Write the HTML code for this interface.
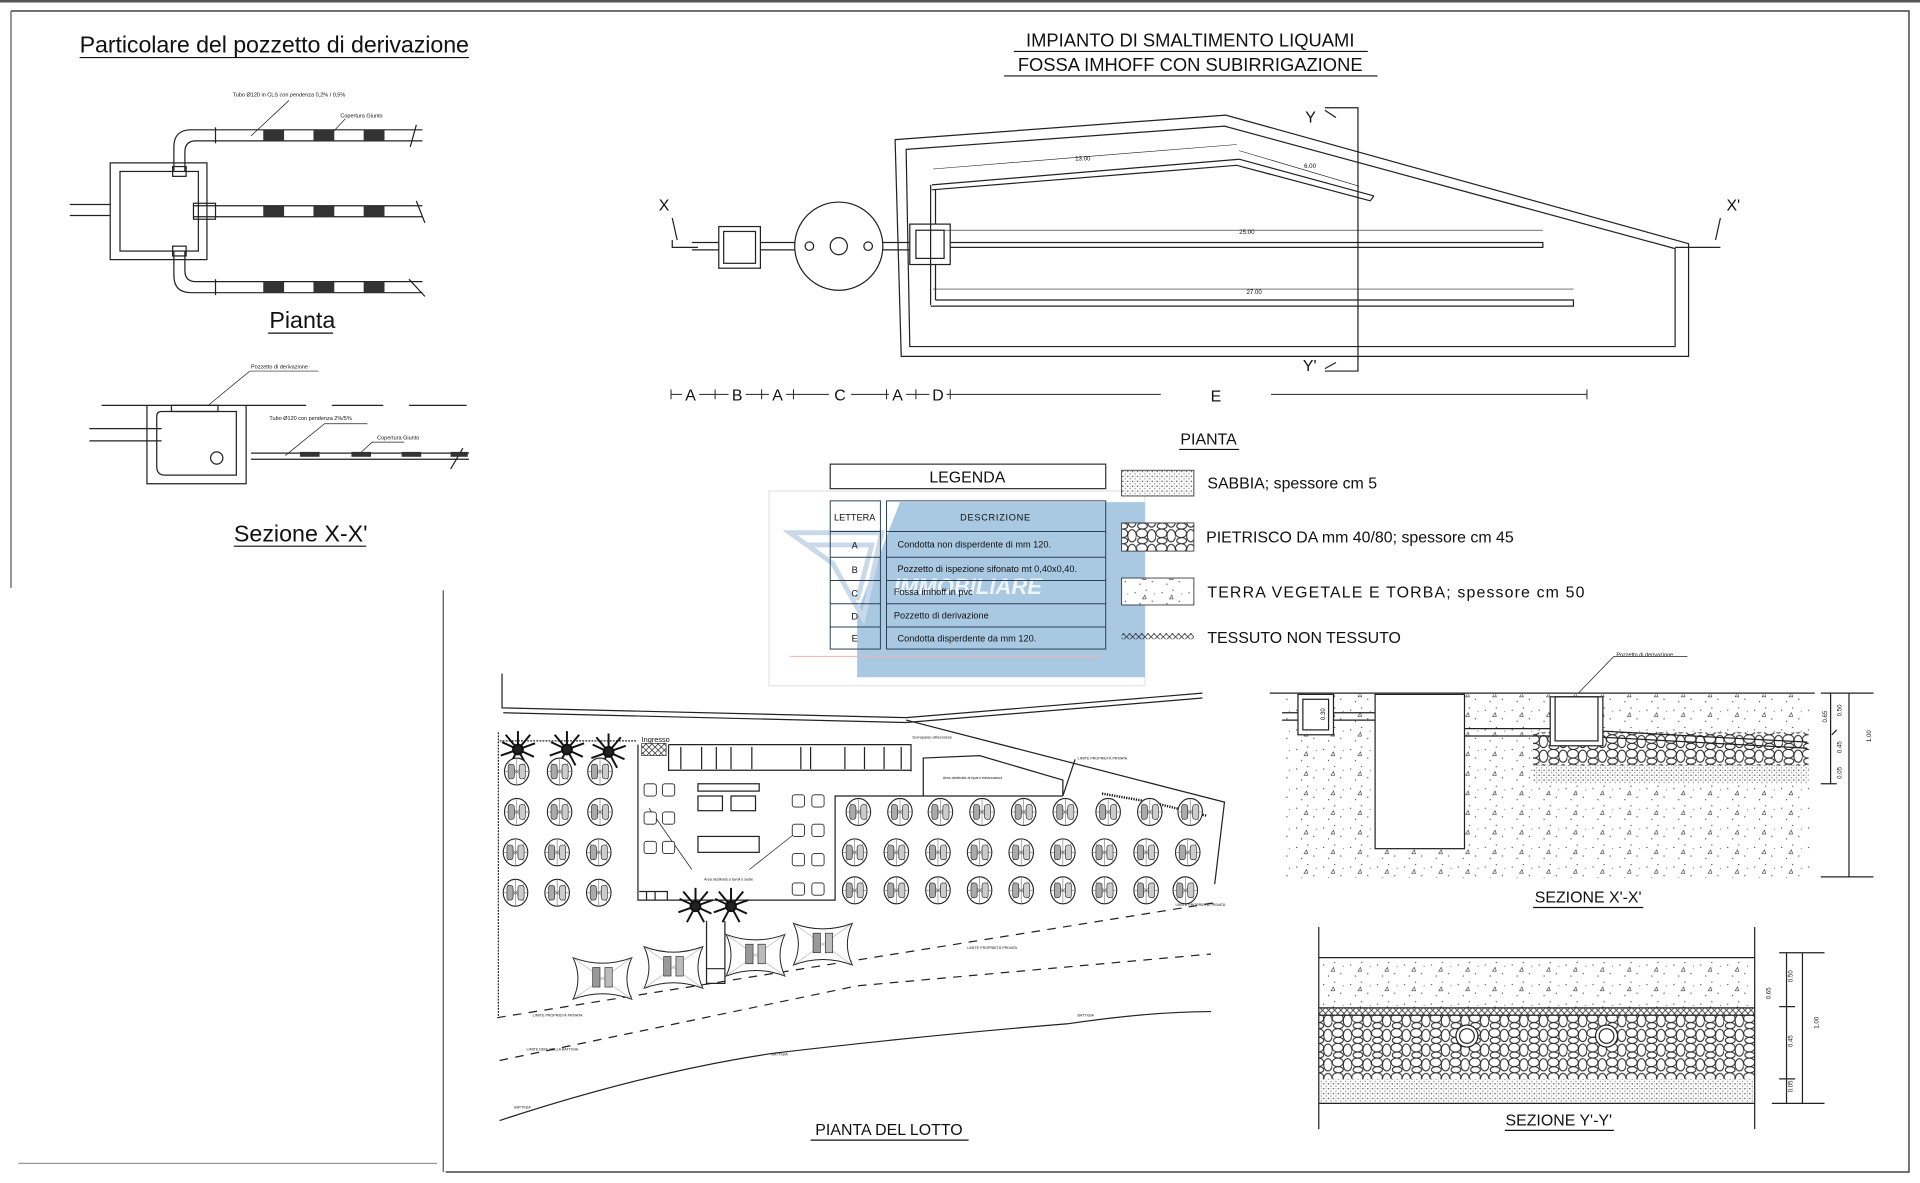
<!DOCTYPE html>
<html><head><meta charset="utf-8">
<style>
html,body{margin:0;padding:0;background:#fff;}
svg{display:block;}
text{font-family:"Liberation Sans",sans-serif;fill:#111;}
</style></head>
<body>
<svg width="1920" height="1183" viewBox="0 0 1568 966" preserveAspectRatio="none" xmlns="http://www.w3.org/2000/svg">
<defs>
<pattern id="sand" width="4" height="4" patternUnits="userSpaceOnUse">
<rect width="4" height="4" fill="#fff"/><circle cx="1" cy="1" r="0.6" fill="#555"/><circle cx="3" cy="3" r="0.5" fill="#777"/><circle cx="3" cy="1" r="0.4" fill="#999"/>
</pattern>
<pattern id="stone" width="16" height="12" patternUnits="userSpaceOnUse">
<rect width="16" height="12" fill="#fff"/>
<ellipse cx="4.5" cy="3.5" rx="4.5" ry="3.5" fill="none" stroke="#222" stroke-width="0.8"/>
<ellipse cx="12.5" cy="5.5" rx="3.5" ry="5" fill="none" stroke="#222" stroke-width="0.8"/>
<ellipse cx="5" cy="9.5" rx="4" ry="2.5" fill="none" stroke="#222" stroke-width="0.8"/>
</pattern>
<pattern id="earth" width="22" height="16" patternUnits="userSpaceOnUse">
<rect width="22" height="16" fill="#fff"/>
<circle cx="3" cy="4" r="0.5" fill="#333"/><circle cx="12" cy="2" r="0.5" fill="#333"/><circle cx="17" cy="11" r="0.5" fill="#333"/><circle cx="7" cy="13" r="0.5" fill="#333"/><circle cx="19" cy="5" r="0.4" fill="#333"/>
<path d="M9 9 l2 -3 l1 3 z" fill="none" stroke="#333" stroke-width="0.5"/>
</pattern>
<pattern id="xx" width="5" height="5" patternUnits="userSpaceOnUse">
<path d="M0 0 L5 5 M5 0 L0 5" stroke="#222" stroke-width="0.6"/>
</pattern>
<g id="umb">
<ellipse cx="0" cy="0" rx="10" ry="11" fill="#fff" stroke="#222" stroke-width="0.9"/>
<path d="M-7 -7 L7 7 M7 -7 L-7 7 M0 -11 V11 M-10 0 H10" stroke="#777" stroke-width="0.5"/>
<rect x="-7" y="-6" width="5" height="12" rx="2" fill="#aaa" stroke="#222" stroke-width="0.5"/>
<rect x="2" y="-6" width="5" height="12" rx="2" fill="#ccc" stroke="#222" stroke-width="0.5"/>
</g>
<g id="palm" stroke="#111" stroke-width="1.6" fill="#222">
<path d="M0 0 L-13 -6 M0 0 L-10 -12 M0 0 L0 -15 M0 0 L10 -12 M0 0 L14 -5 M0 0 L13 6 M0 0 L7 13 M0 0 L-7 13 M0 0 L-14 5"/>
<circle r="4"/>
</g>
<g id="gaz">
<path d="M-24 -17 Q0 -8 24 -17 Q16 0 24 17 Q0 8 -24 17 Q-16 0 -24 -17 Z" fill="#fff" stroke="#222" stroke-width="0.8"/>
<path d="M-24 -17 L24 17 M24 -17 L-24 17" stroke="#888" stroke-width="0.4"/>
<rect x="-8" y="-9" width="6" height="16" fill="#999" stroke="#222" stroke-width="0.5"/>
<rect x="2" y="-9" width="6" height="16" fill="#bbb" stroke="#222" stroke-width="0.5"/>
</g>
<g id="tbl"><rect x="-5" y="-5" width="10" height="10" rx="2" fill="#fff" stroke="#222" stroke-width="0.7"/></g>
</defs>

<rect x="0" y="0" width="1568" height="966" fill="#fff"/>
<path d="M9 9 H1559 V957 H364" fill="none" stroke="#444" stroke-width="1.2"/>
<path d="M0 1 H1568" stroke="#555" stroke-width="2"/>
<path d="M9 9 V480 M362 482 V957" stroke="#555" stroke-width="1"/>
<path d="M15 950 H357" stroke="#999" stroke-width="1"/>

<!-- ===== LEFT DETAIL ===== -->
<text x="65" y="43" font-size="19" textLength="318">Particolare del pozzetto di derivazione</text>
<path d="M65 47 H383" stroke="#111"/>
<g fill="none" stroke="#222" stroke-width="1">
<rect x="90" y="133" width="79" height="79"/>
<rect x="98" y="140" width="64" height="65"/>
<path d="M57 167 H90 M57 176 H90"/>
<path d="M142 140 V120 Q142 106 156 106 H345 M151 140 V124 Q151 115 160 115 H345"/>
<rect x="141" y="136" width="11" height="8"/>
<path d="M176 104 V117"/>
<path d="M158 168 H345 M158 177 H345"/>
<rect x="158" y="166" width="18" height="13"/>
<path d="M142 205 V225 Q142 239 156 239 H345 M151 205 V221 Q151 230 160 230 H345"/>
<rect x="141" y="201" width="11" height="8"/>
<path d="M176 228 V241"/>
<path d="M340 102 L335 120 M340 164 L347 182 M334 228 L347 242"/>
<path d="M205 111 L236 82 M268 112 L282 97" stroke-width="0.6"/>
</g>
<g fill="#333">
<rect x="215" y="106" width="17" height="9"/><rect x="256" y="106" width="17" height="9"/><rect x="297" y="106" width="17" height="9"/>
<rect x="215" y="168" width="17" height="9"/><rect x="256" y="168" width="17" height="9"/><rect x="297" y="168" width="17" height="9"/>
<rect x="215" y="230" width="17" height="9"/><rect x="256" y="230" width="17" height="9"/><rect x="297" y="230" width="17" height="9"/>
</g>
<text x="190" y="79" font-size="4.5" font-family="Liberation Serif">Tubo Ø120 in CLS con pendenza 0,2% / 0,5%</text>
<text x="278" y="96" font-size="4.5" font-family="Liberation Serif">Copertura Giunto</text>
<text x="220" y="268" font-size="19">Pianta</text>
<path d="M219 272 H272" stroke="#111"/>

<g fill="none" stroke="#222" stroke-width="1">
<path d="M83 331 H250 M271 331 H313 M334 331 H381"/>
<path d="M120 331 V395 H201 V331"/>
<path d="M128 340 Q128 336 132 336 H193 V388 H135 Q128 388 128 381 Z"/>
<rect x="140" y="331" width="38" height="5"/>
<path d="M73 350 H132 M73 360 H132"/>
<circle cx="177" cy="374" r="5"/>
<path d="M205 370 H383 M205 375 H383"/>
<path d="M170 331 L204 303 H260" stroke-width="0.6"/>
<path d="M233 372 L265 346 H300" stroke-width="0.6"/>
<path d="M293 371 L304 361 H330" stroke-width="0.6"/>
<path d="M378 366 L368 383"/>
</g>
<g fill="#333"><rect x="245" y="369" width="16" height="4"/><rect x="287" y="369" width="16" height="4"/><rect x="328" y="369" width="16" height="4"/><rect x="368" y="369" width="14" height="4"/></g>
<text x="205" y="301" font-size="4.5" font-family="Liberation Serif">Pozzetto di derivazione</text>
<text x="220" y="343" font-size="4.5" font-family="Liberation Serif">Tubo Ø120 con pendenza 2%/5%</text>
<text x="308" y="359" font-size="4.5" font-family="Liberation Serif">Copertura Giunto</text>
<text x="191" y="442" font-size="19">Sezione X-X'</text>
<path d="M191 446 H299" stroke="#111"/>

<!-- ===== TOP PLAN ===== -->
<text x="972" y="38" font-size="15" text-anchor="middle">IMPIANTO DI SMALTIMENTO LIQUAMI</text>
<path d="M828 42 H1117" stroke="#111"/>
<text x="972" y="58" font-size="15" text-anchor="middle">FOSSA IMHOFF CON SUBIRRIGAZIONE</text>
<path d="M820 62 H1125" stroke="#111"/>

<g fill="none" stroke="#222" stroke-width="1">
<path d="M731 114 L1001 94 L1379 199 V291 H736 Z"/>
<path d="M740 122 L1000 103 L1368 203 V283 H743 Z"/>
<path d="M761 151 L1012 130 L1122 160 M761 155 L1010 135 L1119 164 L1122 160"/>
<path d="M760 151 V249 M764 155 V183 M764 216 V245"/>
<path d="M776 198 H1260 V202 H776"/>
<path d="M764 245 H1285 V250 H760"/>
<rect x="743" y="183" width="33" height="33"/>
<rect x="748" y="188" width="23" height="23"/>
<ellipse cx="685" cy="201" rx="36" ry="36"/>
<circle cx="685" cy="201" r="7"/>
<circle cx="661" cy="201" r="3.5"/>
<circle cx="709" cy="201" r="3.5"/>
<rect x="587" y="185" width="34" height="34"/>
<rect x="591" y="189" width="26" height="26"/>
<path d="M565 198 H587 M565 204 H587 M621 198 H649 M621 204 H649 M721 198 H743 M721 204 H743"/>
<path d="M549 178 L553 196 M549 196 V202 H570"/>
<path d="M1405 178 L1401 196 M1368 202 H1405"/>
<path d="M1082 88 H1109 V303 H1082 M1082 90 L1091 96 M1082 301 L1091 296" />
<path d="M762 138 L1010 118 M1012 123 L1110 152 M761 188 H1260 M762 236 H1285" stroke-width="0.5"/>
</g>
<text x="538" y="172" font-size="13">X</text>
<text x="1410" y="172" font-size="13">X'</text>
<text x="1066" y="100" font-size="13">Y</text>
<text x="1064" y="303" font-size="13">Y'</text>
<g font-size="5" fill="#333">
<text x="878" y="131">13.00</text><text x="1065" y="137">6.00</text>
<text x="1012" y="191">25.00</text><text x="1018" y="240">27.00</text>
</g>
<path d="M548 322 H948 M1038 322 H1296 M548 318 V326 M584 318 V326 M622 318 V326 M648 318 V326 M724 318 V326 M748 318 V326 M776 318 V326 M1296 318 V326" stroke="#222" stroke-width="0.8" fill="none"/>
<g font-size="13" text-anchor="middle">
<rect x="557" y="314" width="14" height="14" fill="#fff"/><text x="564" y="327">A</text>
<rect x="595" y="314" width="14" height="14" fill="#fff"/><text x="602" y="327">B</text>
<rect x="628" y="314" width="14" height="14" fill="#fff"/><text x="635" y="327">A</text>
<rect x="677" y="314" width="18" height="14" fill="#fff"/><text x="686" y="327">C</text>
<rect x="726" y="314" width="14" height="14" fill="#fff"/><text x="733" y="327">A</text>
<rect x="759" y="314" width="14" height="14" fill="#fff"/><text x="766" y="327">D</text>
<text x="993" y="328">E</text>
</g>
<text x="987" y="363" font-size="13" text-anchor="middle">PIANTA</text>
<path d="M963 367 H1012" stroke="#111"/>

<!-- ===== LEGEND ===== -->
<rect x="628" y="401" width="307" height="159" fill="none" stroke="#e4e4e4"/>
<polygon points="735,410 935,410 935,553 700,553 700,500" fill="#a9c8e2"/>
<path d="M645 435 L720 435 L705 505 L680 460 Z M660 445 L712 445 L700 490" fill="none" stroke="#c9d9ea" stroke-width="4"/>
<text x="730" y="485" font-size="18" font-style="italic" font-weight="bold" style="fill:#eef4fa">IMMOBILIARE</text>
<path d="M645 536 H900" stroke="#f3b0b0" stroke-width="0.8"/>
<rect x="678" y="379" width="225" height="20" fill="#fff" stroke="#333"/>
<text x="790" y="394" font-size="13" text-anchor="middle">LEGENDA</text>
<g fill="none" stroke="#2a3f55" stroke-width="0.8">
<rect x="678" y="409" width="41" height="121"/>
<rect x="724" y="409" width="179" height="121"/>
<path d="M678 434 H719 M678 455 H719 M678 474 H719 M678 493 H719 M678 512 H719"/>
<path d="M724 434 H903 M724 455 H903 M724 474 H903 M724 493 H903 M724 512 H903"/>
</g>
<g font-size="7.5" fill="#333">
<text x="698" y="425" text-anchor="middle">LETTERA</text>
<text x="813" y="425" text-anchor="middle" letter-spacing="0.6">DESCRIZIONE</text>
<text x="698" y="448" text-anchor="middle">A</text><text x="733" y="447">Condotta non disperdente di mm 120.</text>
<text x="698" y="468" text-anchor="middle">B</text><text x="733" y="467">Pozzetto di ispezione sifonato mt 0,40x0,40.</text>
<text x="698" y="487" text-anchor="middle">C</text><text x="730" y="486">Fossa imhoff in pvc</text>
<text x="698" y="506" text-anchor="middle">D</text><text x="730" y="505">Pozzetto di derivazione</text>
<text x="698" y="524" text-anchor="middle">E</text><text x="733" y="524">Condotta disperdente da mm 120.</text>
</g>
<rect x="916" y="384" width="59" height="21" fill="url(#sand)" stroke="#333" stroke-width="0.7"/>
<rect x="916" y="427" width="59" height="23" fill="url(#stone)" stroke="#333" stroke-width="0.7"/>
<rect x="916" y="472" width="59" height="22" fill="url(#earth)" stroke="#333" stroke-width="0.7"/>
<rect x="916" y="517" width="59" height="5" fill="url(#xx)"/>
<g font-size="13">
<text x="986" y="399">SABBIA; spessore cm 5</text>
<text x="985" y="443">PIETRISCO DA mm 40/80; spessore cm 45</text>
<text x="986" y="488" textLength="308">TERRA VEGETALE E TORBA; spessore cm 50</text>
<text x="986" y="525">TESSUTO NON TESSUTO</text>
</g>

<!-- ===== SEZIONE X'-X' ===== -->
<rect x="1047" y="567" width="431" height="150" fill="url(#earth)"/>
<rect x="1252" y="598" width="225" height="27" fill="url(#stone)"/>
<rect x="1252" y="625" width="225" height="15" fill="url(#sand)"/>
<g fill="none" stroke="#222" stroke-width="1">
<path d="M1037 566 H1482"/>
<rect x="1060" y="567" width="29" height="33" fill="#fff"/>
<rect x="1064" y="571" width="21" height="25"/>
<rect x="1123" y="567" width="73" height="126" fill="#fff"/>
<rect x="1266" y="569" width="43" height="40" fill="#fff"/>
<rect x="1270" y="569" width="35" height="36"/>
<path d="M1047 582 H1060 M1047 588 H1060 M1089 582 H1123 M1089 588 H1123 M1196 595 H1266 M1196 601 H1266 M1309 597 L1476 606 M1309 602 L1476 611"/>
<path d="M1289 566 L1318 536 H1378" stroke-width="0.6"/>
<path d="M1487 566 H1530 M1510 566 V716 M1487 716 H1530 M1495 566 V640 M1487 640 H1500 M1496 600 L1500 596"/>
</g>
<text x="1320" y="536" font-size="4.5" font-family="Liberation Serif">Pozzetto di derivazione</text>
<g font-size="5" fill="#333">
<text transform="translate(1082,588) rotate(-90)">0.30</text>
<text transform="translate(1492,590) rotate(-90)">0.65</text>
<text transform="translate(1504,585) rotate(-90)">0.50</text>
<text transform="translate(1504,615) rotate(-90)">0.45</text>
<text transform="translate(1504,636) rotate(-90)">0.05</text>
<text transform="translate(1528,606) rotate(-90)">1.00</text>
</g>
<text x="1297" y="737" font-size="13" text-anchor="middle">SEZIONE X'-X'</text>
<path d="M1252 741 H1342" stroke="#111"/>

<!-- ===== SEZIONE Y'-Y' ===== -->
<rect x="1077" y="782" width="356" height="41" fill="url(#earth)"/>
<rect x="1077" y="823" width="356" height="6" fill="url(#xx)"/>
<rect x="1077" y="829" width="356" height="52" fill="url(#stone)"/>
<rect x="1077" y="881" width="356" height="20" fill="url(#sand)"/>
<g fill="none" stroke="#222" stroke-width="1">
<path d="M1077 757 V922 M1433 757 V922 M1077 782 H1433 M1077 823 H1433 M1077 829 H1433 M1077 901 H1433"/>
<circle cx="1198" cy="846" r="9" fill="#fff"/><circle cx="1198" cy="846" r="6"/>
<circle cx="1312" cy="846" r="9" fill="#fff"/><circle cx="1312" cy="846" r="6"/>
<path d="M1453 778 H1490 M1472 778 V901 M1447 901 H1490 M1459 778 V901 M1453 822 H1466 M1453 881 H1466"/>
</g>
<g font-size="5" fill="#333">
<text transform="translate(1446,816) rotate(-90)">0.65</text>
<text transform="translate(1464,802) rotate(-90)">0.50</text>
<text transform="translate(1464,855) rotate(-90)">0.45</text>
<text transform="translate(1464,892) rotate(-90)">0.05</text>
<text transform="translate(1485,840) rotate(-90)">1.00</text>
</g>
<text x="1273" y="919" font-size="13" text-anchor="middle">SEZIONE Y'-Y'</text>
<path d="M1229 923 H1318" stroke="#111"/>

<!-- ===== PIANTA DEL LOTTO ===== -->
<g fill="none" stroke="#222" stroke-width="1">
<path d="M410 550 V578 L740 586 L982 566 M411 582 L740 590 L982 570"/>
<path d="M407 598 V830" stroke-dasharray="1.5 1"/>
<path d="M408 605 H520" stroke-dasharray="1.5 1"/>
<path d="M521 608 V735 H682 V650 H868 M546 608 H744 V630 M546 608 V629 H744"/>
<path d="M754 650 V619 L800 617 L868 637 V650"/>
<path d="M740 588 L961 645 L1000 655 L992 722"/>
<path d="M868 650 L878 620"/>
<path d="M406 831 L993 737" stroke-dasharray="7 6"/>
<path d="M408 866 L700 805 L989 779" stroke-dasharray="7 6"/>
<path d="M408 915 Q530 875 632 860 Q760 845 872 836 Q940 826 989 826"/>
<path d="M577 752 V791 H592 V752 M577 791 V803 H592 V791"/>
<path d="M530 660 L565 710 M650 680 L612 710" stroke-width="0.6"/>
<rect x="570" y="640" width="50" height="6"/>
<rect x="570" y="650" width="20" height="12"/><rect x="597" y="650" width="20" height="12"/>
<rect x="570" y="683" width="50" height="13"/>
<path d="M522 728 H545 V735 M528 728 V735 M535 728 V735"/>
<path d="M556 610 V628 M573 610 V628 M585 610 V628 M597 610 V628 M614 610 V628 M654 610 V628 M662 610 V628 M690 610 V628 M706 610 V628 M722 610 V628 M736 610 V628"/>
<path d="M900 648 L940 655 L985 666" stroke="#111" stroke-width="2" stroke-dasharray="1 1"/>
</g>
<rect x="524" y="607" width="20" height="10" fill="url(#xx)" stroke="#222" stroke-width="0.5"/>
<text x="524" y="606" font-size="6">Ingresso</text>
<g font-size="3" fill="#333">
<text x="770" y="636">Area destinata al riparo imbarcazioni</text>
<text x="575" y="719">Area destinata a tavoli e sedie</text>
<text x="745" y="603">Sovrapasso attrezzature</text>
<text x="880" y="620">LIMITE PROPRIETÀ PRIVATA</text>
<text x="960" y="740">LIMITE PROPRIETÀ PRIVATA</text>
<text x="790" y="775">LIMITE PROPRIETÀ PRIVATA</text>
<text x="435" y="830">LIMITE PROPRIETÀ PRIVATA</text>
<text x="430" y="858">LIMITE DEM. DELLA BATTIGIA</text>
<text x="630" y="862">BATTIGIA</text>
<text x="420" y="905">BATTIGIA</text>
<text x="880" y="830">BATTIGIA</text>
</g>
<use href="#palm" x="423" y="612"/><use href="#palm" x="463" y="612"/><use href="#palm" x="497" y="614"/>
<use href="#palm" x="568" y="740"/><use href="#palm" x="597" y="740"/>
<use href="#umb" x="422" y="630"/><use href="#umb" x="457" y="630"/><use href="#umb" x="490" y="630"/>
<use href="#umb" x="422" y="663"/><use href="#umb" x="457" y="663"/><use href="#umb" x="490" y="663"/>
<use href="#umb" x="421" y="696"/><use href="#umb" x="455" y="696"/><use href="#umb" x="489" y="696"/>
<use href="#umb" x="421" y="729"/><use href="#umb" x="455" y="729"/><use href="#umb" x="489" y="729"/>
<g>
<use href="#umb" x="701" y="663"/><use href="#umb" x="735" y="663"/><use href="#umb" x="768" y="663"/><use href="#umb" x="802" y="663"/><use href="#umb" x="836" y="663"/><use href="#umb" x="870" y="663"/><use href="#umb" x="905" y="663"/><use href="#umb" x="939" y="663"/><use href="#umb" x="972" y="663"/>
<use href="#umb" x="698" y="696"/><use href="#umb" x="732" y="696"/><use href="#umb" x="766" y="696"/><use href="#umb" x="800" y="696"/><use href="#umb" x="834" y="696"/><use href="#umb" x="868" y="696"/><use href="#umb" x="902" y="696"/><use href="#umb" x="936" y="696"/><use href="#umb" x="970" y="696"/>
<use href="#umb" x="698" y="727"/><use href="#umb" x="732" y="727"/><use href="#umb" x="766" y="727"/><use href="#umb" x="800" y="727"/><use href="#umb" x="834" y="727"/><use href="#umb" x="868" y="727"/><use href="#umb" x="902" y="727"/><use href="#umb" x="936" y="727"/><use href="#umb" x="968" y="727"/>
</g>
<use href="#tbl" x="531" y="645"/><use href="#tbl" x="546" y="645"/>
<use href="#tbl" x="531" y="668"/><use href="#tbl" x="546" y="668"/>
<use href="#tbl" x="531" y="692"/><use href="#tbl" x="546" y="692"/>
<use href="#tbl" x="652" y="654"/><use href="#tbl" x="668" y="654"/>
<use href="#tbl" x="652" y="678"/><use href="#tbl" x="668" y="678"/>
<use href="#tbl" x="652" y="702"/><use href="#tbl" x="668" y="702"/>
<use href="#tbl" x="652" y="726"/><use href="#tbl" x="668" y="726"/>
<use href="#gaz" x="492" y="799"/><use href="#gaz" x="550" y="790"/><use href="#gaz" x="617" y="780"/><use href="#gaz" x="672" y="771"/>
<text x="726" y="927" font-size="13" text-anchor="middle">PIANTA DEL LOTTO</text>
<path d="M662 931 H791" stroke="#111"/>
</svg>
</body></html>
